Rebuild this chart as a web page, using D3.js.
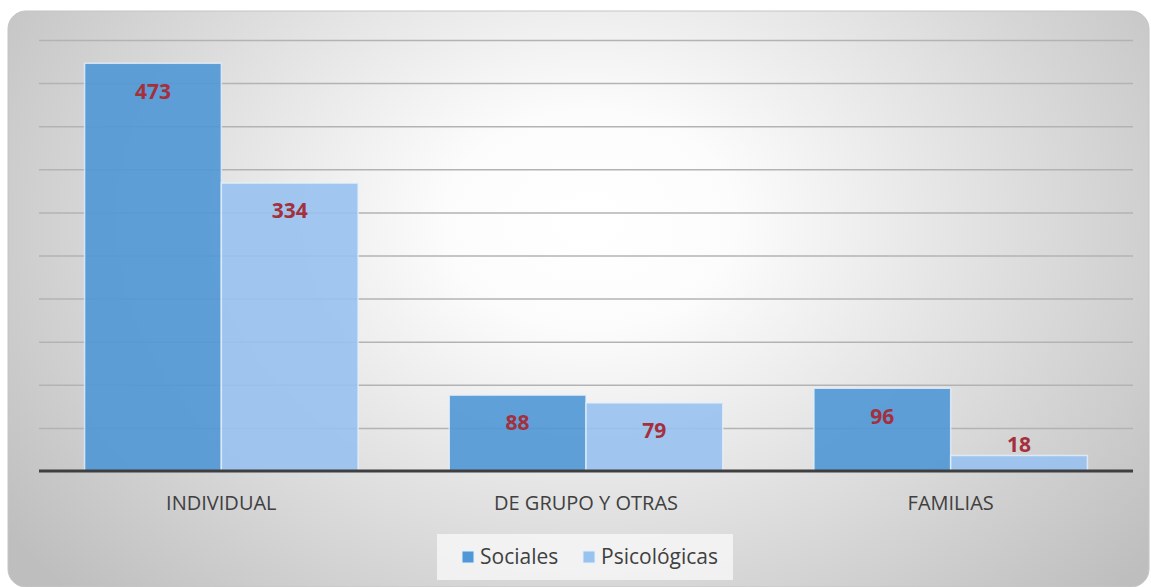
<!DOCTYPE html>
<html>
<head>
<meta charset="utf-8">
<script src="https://cdn.jsdelivr.net/npm/d3@7"></script>
<style>
  body { margin: 0; background: #ffffff; }
  svg { display: block; font-family: "Open Sans", sans-serif; }
</style>
</head>
<body>
<div id="chart"></div>
<script>
var width = 1151,
    height = 587;

var categories = ['INDIVIDUAL', 'DE GRUPO Y OTRAS', 'FAMILIAS'];
var seriesNames = ['Sociales', 'Psicológicas'];
var sociales = [473, 88, 96];
var psicologicas = [334, 79, 18];
var yTicks = [0, 50, 100, 150, 200, 250, 300, 350, 400, 450, 500];

var seriesColor = d3.scaleOrdinal()
    .domain(seriesNames)
    .range(['#4f97d6', '#98c2f0']);

var data = categories.map(function(c, i) {
    return { cat: c, values: [
        { name: 'Sociales', value: sociales[i] },
        { name: 'Psicológicas', value: psicologicas[i] }
    ]};
});

var svg = d3.select('#chart').append('svg')
    .attr('width', width)
    .attr('height', height);

// background gradient
var defs = svg.append('defs');
var grad = defs.append('radialGradient')
    .attr('id', 'bg')
    .attr('gradientUnits', 'userSpaceOnUse')
    .attr('cx', 590).attr('cy', 220).attr('r', 720)
    .attr('fx', 590).attr('fy', 220)
    .attr('gradientTransform', 'translate(590,220) scale(1,0.75) translate(-590,-220)');
grad.append('stop').attr('offset', '0%').attr('stop-color', '#ffffff');
grad.append('stop').attr('offset', '20%').attr('stop-color', '#fcfcfc');
grad.append('stop').attr('offset', '100%').attr('stop-color', '#bebebe');

svg.append('rect')
    .attr('x', 8).attr('y', 11)
    .attr('width', 1141).attr('height', 576)
    .attr('rx', 18).attr('ry', 18)
    .attr('fill', 'url(#bg)')
    .attr('stroke', '#c4c4c4')
    .attr('stroke-width', 1);

var plotLeft = 39, plotRight = 1133, plotTop = 40, plotBottom = 471;

var x0 = d3.scaleBand()
    .domain(categories)
    .range([plotLeft, plotRight])
    .paddingInner(0.25)
    .paddingOuter(0.125);

var x1 = d3.scaleBand()
    .domain(seriesNames)
    .range([0, x0.bandwidth()]);

var y = d3.scaleLinear()
    .domain([0, 500])
    .range([plotBottom, plotTop]);

// gridlines
var yAxis = d3.axisLeft(y)
    .tickValues(yTicks.slice(1))
    .tickSize(-(plotRight - plotLeft))
    .tickFormat('');

svg.append('g')
    .attr('class', 'grid')
    .attr('transform', 'translate(' + plotLeft + ',0)')
    .call(yAxis)
    .call(function(g) { g.select('.domain').remove(); })
    .selectAll('line')
    .attr('stroke', '#b3b3b3')
    .attr('stroke-width', 1.5);

// bars
var groups = svg.selectAll('.group')
    .data(data)
    .enter().append('g')
    .attr('class', 'group')
    .attr('transform', function(d) { return 'translate(' + x0(d.cat) + ',0)'; });

groups.selectAll('rect')
    .data(function(d) { return d.values; })
    .enter().append('rect')
    .attr('x', function(d) { return x1(d.name); })
    .attr('y', function(d) { return y(d.value); })
    .attr('width', x1.bandwidth())
    .attr('height', function(d) { return plotBottom - y(d.value); })
    .attr('fill', function(d) { return seriesColor(d.name); })
    .attr('fill-opacity', 0.9)
    .attr('stroke', '#e6f0fa')
    .attr('stroke-opacity', 0.8)
    .attr('stroke-width', 1.5);

// data labels
groups.selectAll('text')
    .data(function(d) { return d.values; })
    .enter().append('text')
    .attr('x', function(d) { return x1(d.name) + x1.bandwidth() / 2; })
    .attr('y', function(d) {
        var h = plotBottom - y(d.value);
        return h > 40 ? y(d.value) + 28 : y(d.value) - 11;
    })
    .attr('dy', '0.35em')
    .attr('text-anchor', 'middle')
    .attr('font-size', '21px')
    .attr('font-weight', 'bold')
    .attr('fill', '#a3303c')
    .text(function(d) { return d.value; });

// baseline
svg.append('line')
    .attr('x1', plotLeft).attr('x2', plotRight)
    .attr('y1', plotBottom).attr('y2', plotBottom)
    .attr('stroke', '#3f3f3f')
    .attr('stroke-width', 3);

// category axis
var xAxis = d3.axisBottom(x0).tickSize(0).tickPadding(25);
svg.append('g')
    .attr('transform', 'translate(0,' + plotBottom + ')')
    .call(xAxis)
    .call(function(g) { g.select('.domain').remove(); })
    .selectAll('text')
    .attr('font-family', '"Open Sans", sans-serif')
    .attr('font-size', '20px')
    .attr('fill', '#404040');

// legend
svg.append('rect')
    .attr('x', 437).attr('y', 534)
    .attr('width', 296).attr('height', 46)
    .attr('fill', '#f7f7f7')
    .attr('fill-opacity', 0.8);

var legendX = [462, 583];
var legend = svg.selectAll('.legend')
    .data(seriesNames)
    .enter().append('g')
    .attr('class', 'legend')
    .attr('transform', function(d, i) { return 'translate(' + legendX[i] + ',551)'; });

legend.append('rect')
    .attr('width', 12).attr('height', 12)
    .attr('fill', function(d) { return seriesColor(d); })
    .attr('stroke', '#e6f0fa')
    .attr('stroke-width', 1);

legend.append('text')
    .attr('x', 18).attr('y', 6)
    .attr('dy', '0.35em')
    .attr('font-size', '21px')
    .attr('fill', '#404040')
    .text(function(d) { return d; });
</script>
</body>
</html>
